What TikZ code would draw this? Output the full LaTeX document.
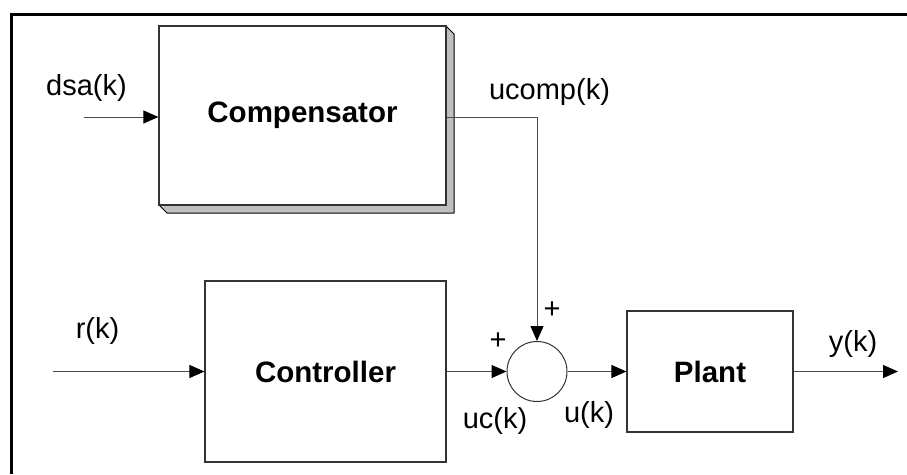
\documentclass[tikz,border=0pt]{standalone}
\usepackage{fontspec}
\setmainfont{Liberation Sans}
\usetikzlibrary{arrows.meta}
\tikzset{
  blk/.style={draw=black!80, line width=1.2pt, fill=white, inner sep=0pt, font=\fontsize{29.5}{34}\selectfont\bfseries},
  lbl/.style={inner sep=0pt, font=\fontsize{29}{34}\selectfont},
  sig/.style={draw=black!70, line width=1pt, -{Triangle[length=15pt,width=13pt,color=black]}},
  wire/.style={draw=black!70, line width=1pt},
  shade3d/.style={fill=black!25, draw=black, line width=1pt, line join=round},
}
\begin{document}
\begin{tikzpicture}[x=1pt,y=-1pt]
\useasboundingbox (0,0) rectangle (907,474);
% frame
\draw[line width=3pt] (11,474) -- (11,14) -- (907,14);
% compensator shadow
\filldraw[shade3d] (446,26) -- (454,34) -- (454,213) -- (167,213) -- (159,205) -- (446,205) -- cycle;
\node[blk, minimum width=287pt, minimum height=179pt] (comp) at (302.5,115.5) {Compensator};
\node[blk, minimum width=241pt, minimum height=181pt] (ctrl) at (325.5,371.5) {Controller};
\node[blk, minimum width=166pt, minimum height=121pt] (plant) at (710,371.5) {Plant};
\node[draw=black!80, line width=1pt, circle, minimum size=60pt, inner sep=0pt] (sum) at (537,371.5) {};
% free ends
\coordinate (dsain) at (84,117);
\coordinate (rin) at (53,371.5);
\coordinate (yout) at (898,371.5);
\coordinate (corner) at (537,117);
% connectors
\draw[sig] (dsain) -- (dsain -| comp.west);
\draw[wire] (comp.east |- corner) -- (corner);
\draw[sig] (corner) -- (sum.north);
\draw[sig] (rin) -- (ctrl.west);
\draw[sig] (ctrl.east) -- (sum.west);
\draw[sig] (sum.east) -- (plant.west);
\draw[sig] (plant.east) -- (yout);
% labels
\node[lbl] (ldsa) at (86.5,88) {dsa(k)};
\node[lbl] (lucomp) at (549.5,92) {ucomp(k)};
\node[lbl] (lr) at (97.5,331) {r(k)};
\node[lbl] (luc) at (495,421) {uc(k)};
\node[lbl] (lu) at (589,415) {u(k)};
\node[lbl] (ly) at (853,344) {y(k)};
\node[lbl] (p1) at (552,310) {+};
\node[lbl] (p2) at (498,341) {+};
\end{tikzpicture}
\end{document}
